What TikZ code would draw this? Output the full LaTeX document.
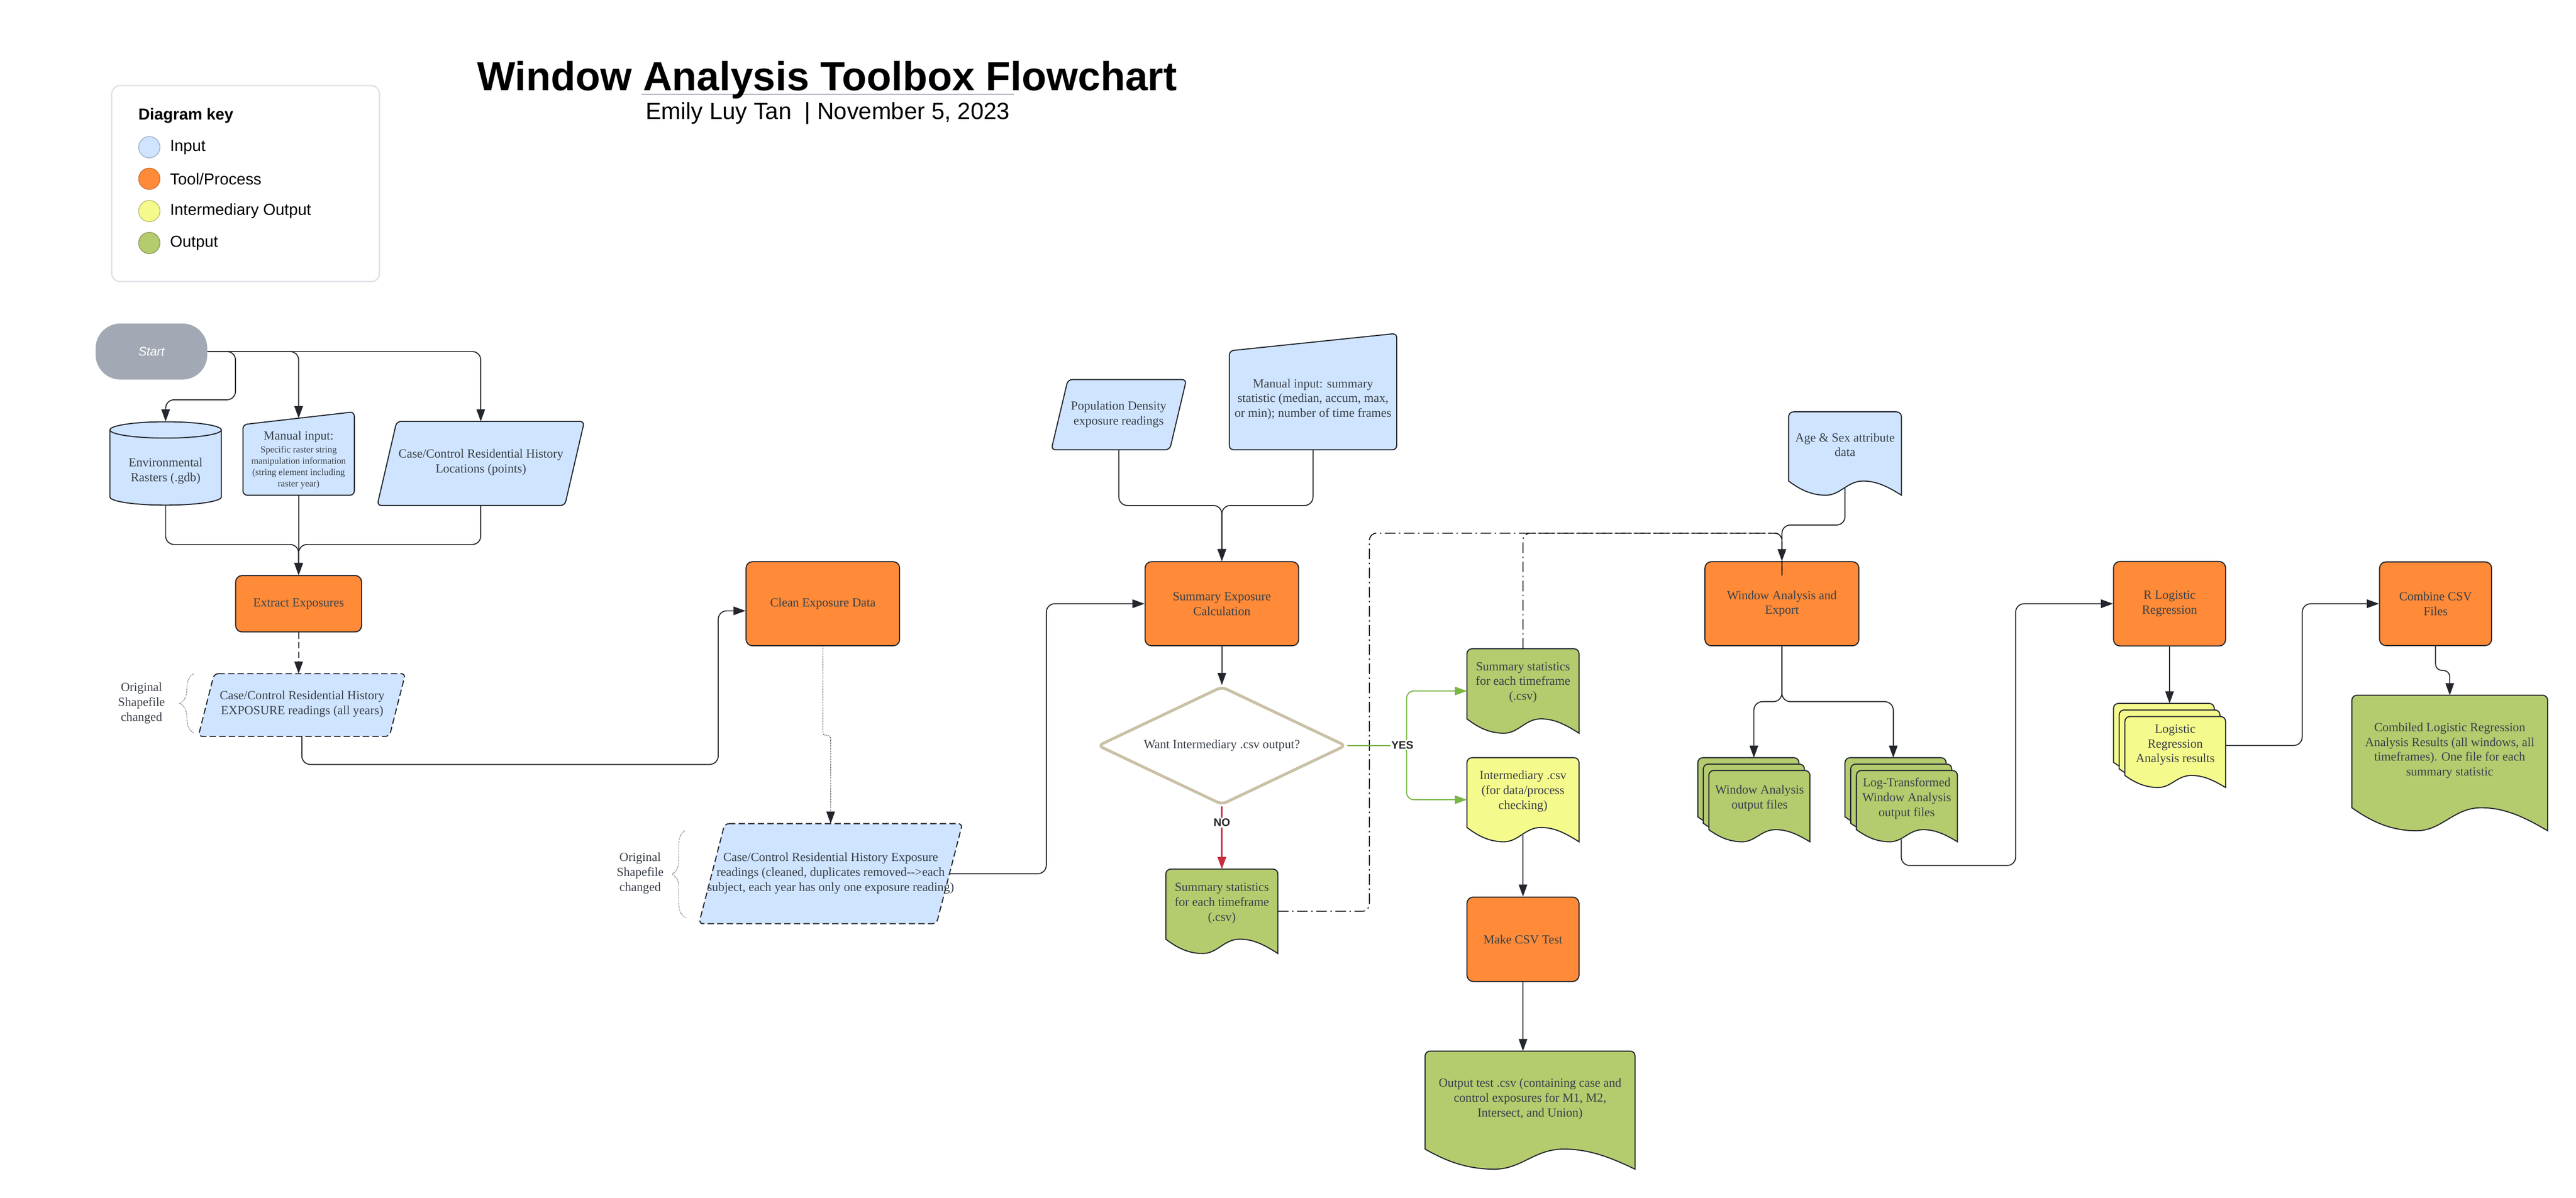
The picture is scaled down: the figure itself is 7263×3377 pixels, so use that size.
\documentclass[tikz,border=0pt]{standalone}
\usepackage{fontspec}
\setmainfont{Liberation Serif}
\setsansfont{Liberation Sans}
\usetikzlibrary{arrows.meta,shapes.geometric,decorations.pathreplacing}

\definecolor{inblue}{HTML}{CFE4FF}
\definecolor{orng}{HTML}{FF8A38}
\definecolor{ylw}{HTML}{F5FA8C}
\definecolor{grn}{HTML}{B4CB6E}
\definecolor{startgray}{HTML}{A3A9B4}
\definecolor{txtc}{HTML}{3A414A}
\definecolor{edgec}{HTML}{23272D}
\definecolor{dtan}{HTML}{C9C1A6}
\definecolor{nored}{HTML}{C92D39}
\definecolor{yesgreen}{HTML}{7AB648}
\definecolor{keyline}{HTML}{DFE3E8}
\definecolor{rulegray}{HTML}{A9AEB8}

\tikzset{
  every node/.style={font=\fontsize{35}{42}\selectfont, text=txtc},
  shapeline/.style={draw=edgec, line width=3pt},
  proc/.style={shapeline, fill=orng, rounded corners=18pt, align=center, inner sep=0pt},
  hitbox/.style={draw=none, inner sep=0pt, outer sep=0pt},
  lbl/.style={align=center, inner sep=0pt},
  conn/.style={draw=edgec, line width=2.8pt, rounded corners=24pt, -{Triangle[length=34pt,width=24pt]}},
  ddline/.style={draw=black, line width=2.5pt, rounded corners=20pt, dash pattern=on 30pt off 10pt on 4pt off 10pt},
  yesline/.style={draw=yesgreen, line width=3pt, rounded corners=20pt, -{Triangle[length=34pt,width=24pt]}},
  noline/.style={draw=nored, line width=3.5pt, -{Triangle[length=34pt,width=24pt]}},
  dotbrace/.style={draw=edgec, line width=1.6pt, dash pattern=on 1.6pt off 2.6pt, decorate, decoration={brace, amplitude=#1}},
  keytext/.style={anchor=west, font=\sffamily\fontsize{45}{54}\selectfont, text=black},
  keydot/.style={circle, minimum size=60pt, inner sep=0pt, line width=2pt},
  branchlbl/.style={font=\sffamily\bfseries\fontsize{31}{36}\selectfont, text=black!85, fill=white, inner sep=3pt}
}

\newcommand\docshape[5]{%
  \pgfmathsetmacro\dsXa{#1}\pgfmathsetmacro\dsYa{#2}%
  \pgfmathsetmacro\dsXb{#3}\pgfmathsetmacro\dsYb{#4}%
  \pgfmathsetmacro\dsW{\dsXb-\dsXa}%
  \pgfmathsetmacro\dsD{0.17*(\dsYb-\dsYa)}%
  \filldraw[shapeline, fill=#5]
    (\dsXa,\dsYb-\dsD) -- (\dsXa,\dsYa+14) arc[start angle=180,end angle=90,radius=14pt]
    -- (\dsXb-14,\dsYa) arc[start angle=90,end angle=0,radius=14pt]
    -- (\dsXb,\dsYb)
    .. controls (\dsXa+0.88*\dsW,\dsYb-0.6*\dsD) and (\dsXa+0.78*\dsW,\dsYb-\dsD) .. (\dsXa+0.66*\dsW,\dsYb-\dsD)
    .. controls (\dsXa+0.52*\dsW,\dsYb-\dsD) and (\dsXa+0.46*\dsW,\dsYb) .. (\dsXa+0.33*\dsW,\dsYb)
    .. controls (\dsXa+0.2*\dsW,\dsYb) and (\dsXa+0.1*\dsW,\dsYb-0.4*\dsD) .. (\dsXa,\dsYb-\dsD) -- cycle;%
}
% front layer x0 y0 x1 y1, fill, ox, oy
\newcommand\stackshape[7]{%
  \pgfmathsetmacro\stXa{#1-2*#6}\pgfmathsetmacro\stYa{#2-2*#7}%
  \pgfmathsetmacro\stXb{#3-2*#6}\pgfmathsetmacro\stYb{#4-2*#7}%
  \docshape{\stXa}{\stYa}{\stXb}{\stYb}{#5}%
  \pgfmathsetmacro\stXa{#1-#6}\pgfmathsetmacro\stYa{#2-#7}%
  \pgfmathsetmacro\stXb{#3-#6}\pgfmathsetmacro\stYb{#4-#7}%
  \docshape{\stXa}{\stYa}{\stXb}{\stYb}{#5}%
  \docshape{#1}{#2}{#3}{#4}{#5}%
}
% parallelogram: cx cy w h slant style
\newcommand\parashape[6]{%
  \filldraw[#6] (#1-#3/2+#5/2,#2-#4/2) -- (#1+#3/2+#5/2,#2-#4/2) -- (#1+#3/2-#5/2,#2+#4/2) -- (#1-#3/2-#5/2,#2+#4/2) -- cycle;%
}

\begin{document}
\begin{tikzpicture}[x=1pt,y=-1pt]
\useasboundingbox (0,0) rectangle (7263,3377);
\fill[white] (0,0) rectangle (7263,3377);

% ---------- title ----------
\draw[rulegray, line width=3.3pt] (1808,266) -- (2858,266);
\node[font=\sffamily\bfseries\fontsize{114}{130}\selectfont, text=black, anchor=base, inner sep=0pt] (title) at (2332,255) {Window Analysis Toolbox Flowchart};
\node[font=\sffamily\fontsize{66}{76}\selectfont, text=black, anchor=base, inner sep=0pt] (subtitle) at (2334,337) {Emily Luy Tan\ \ | November 5, 2023};

% ---------- key ----------
\draw[keyline, line width=4pt, rounded corners=24pt, fill=white] (315,241) rectangle (1070,794);
\node[font=\sffamily\bfseries\fontsize{45}{54}\selectfont, text=black, anchor=base west, inner sep=0pt] (keytitle) at (390,338) {Diagram key};
\node[keydot, fill=inblue, draw=inblue!75!black] (kin) at (421,415) {};
\node[keytext] (kinl) at (476,415) {Input};
\node[keydot, fill=orng, draw=orng!80!black] (kproc) at (421,504) {};
\node[keytext] (kprocl) at (476,504) {Tool/Process};
\node[keydot, fill=ylw, draw=ylw!75!black] (kint) at (421,595) {};
\node[keytext] (kintl) at (476,595) {Intermediary Output};
\node[keydot, fill=grn, draw=grn!75!black] (kout) at (421,685) {};
\node[keytext] (koutl) at (476,685) {Output};

% ---------- start & first inputs ----------
\node[fill=startgray, minimum width=315pt, minimum height=158pt, rounded corners=70pt, inner sep=0pt,
      font=\sffamily\itshape\fontsize{35}{42}\selectfont, text=white] (start) at (427,991) {Start};

% cylinder
\filldraw[shapeline, fill=inblue] (310,1212) -- (310,1401) arc[start angle=180,end angle=360,x radius=157pt,y radius=23pt] -- (624,1212) -- cycle;
\filldraw[shapeline, fill=inblue] (467,1212) ellipse [x radius=157pt, y radius=23pt];
\node[hitbox, minimum width=314pt, minimum height=236pt] (env) at (467,1306) {};
\node[lbl] (envt) at (467,1328) {Environmental\\Rasters (.gdb)};

% manual input 1
\filldraw[shapeline, fill=inblue, rounded corners=12pt] (685,1197) -- (999,1161) -- (999,1396) -- (685,1396) -- cycle;
\node[hitbox, minimum width=314pt, minimum height=217pt] (man1) at (842,1287.5) {};
\node[lbl] (man1t) at (842,1232) {Manual input:};
\node[lbl, font=\fontsize{26}{31.7}\selectfont] (man1s) at (842,1318) {Specific raster string\\manipulation information\\(string element including\\raster year)};

% case/control locations
\parashape{1355.5}{1306.5}{529}{237}{55}{shapeline, fill=inblue, rounded corners=12pt}
\node[hitbox, minimum width=529pt, minimum height=237pt] (cc) at (1355.5,1306.5) {};
\node[lbl] (cct) at (1356,1303) {Case/Control Residential History\\Locations (points)};

% extract
\node[proc, minimum width=355pt, minimum height=159pt] (ext) at (842,1702) {Extract Exposures};

% exposure readings (dashed)
\parashape{851}{1987.5}{539}{177}{45}{shapeline, fill=inblue, rounded corners=12pt, dash pattern=on 18pt off 9pt}
\node[hitbox, minimum width=539pt, minimum height=177pt] (ex2) at (851,1987.5) {};
\node[lbl] (ex2t) at (852,1985) {Case/Control Residential History\\EXPOSURE readings (all years)};
\draw[dotbrace=40pt] (547,2067) -- (547,1899);
\node[lbl] (orig1) at (399,1982) {Original\\Shapefile\\changed};

% clean
\node[proc, minimum width=433pt, minimum height=237pt] (clean) at (2320,1702) {Clean Exposure Data};

% cleaned readings (dashed)
\parashape{2342}{2463}{670}{282}{73}{shapeline, fill=inblue, rounded corners=12pt, dash pattern=on 18pt off 9pt}
\node[hitbox, minimum width=670pt, minimum height=282pt] (ex3) at (2342,2463) {};
\node[lbl] (ex3t) at (2342,2462) {Case/Control Residential History Exposure\\readings (cleaned, duplicates removed-{}->each\\subject, each year has only one exposure reading)};
\draw[dotbrace=38pt] (1933,2587) -- (1933,2341);
\node[lbl] (orig2) at (1805,2462) {Original\\Shapefile\\changed};

% population density
\parashape{3154.5}{1169}{334}{198}{47}{shapeline, fill=inblue, rounded corners=12pt}
\node[hitbox, minimum width=334pt, minimum height=198pt] (pop) at (3154.5,1169) {};
\node[lbl] (popt) at (3154,1168) {Population Density\\exposure readings};

% manual input 2
\filldraw[shapeline, fill=inblue, rounded corners=12pt] (3466,989) -- (3938,940) -- (3938,1268) -- (3466,1268) -- cycle;
\node[hitbox, minimum width=472pt, minimum height=303.5pt] (man2) at (3702,1116.25) {};
\node[lbl] (man2t) at (3702,1126) {Manual input: summary\\statistic (median, accum, max,\\or min); number of time frames};

% summary exposure
\node[proc, minimum width=433pt, minimum height=237pt] (sum) at (3445,1702) {Summary Exposure\\Calculation};

% decision
\node[diamond, aspect=2.1, draw=dtan, line width=8pt, fill=white, minimum width=700pt, minimum height=334pt,
      rounded corners=14pt, inner sep=0pt] (dec) at (3445,2102) {Want Intermediary .csv output?};

% summary stats (no)
\docshape{3287}{2450}{3603}{2688}{grn}
\node[hitbox, minimum width=316pt, minimum height=238pt] (sstat1) at (3445,2569) {};
\node[lbl] (sstat1t) at (3445,2546) {Summary statistics\\for each timeframe\\(.csv)};

% summary stats (yes)
\docshape{4136}{1829}{4452}{2067}{grn}
\node[hitbox, minimum width=316pt, minimum height=238pt] (sstat2) at (4294,1948) {};
\node[lbl] (sstat2t) at (4294,1924) {Summary statistics\\for each timeframe\\(.csv)};

% intermediary
\docshape{4136}{2136}{4452}{2373}{ylw}
\node[hitbox, minimum width=316pt, minimum height=237pt] (inter) at (4294,2254.5) {};
\node[lbl] (intert) at (4294,2231) {Intermediary .csv\\(for data/process\\checking)};

% make csv test
\node[proc, minimum width=316pt, minimum height=238pt] (mk) at (4294,2648) {Make CSV Test};

% output test
\docshape{4018}{2963}{4610}{3296}{grn}
\node[hitbox, minimum width=592pt, minimum height=333pt] (out) at (4314,3129.5) {};
\node[lbl] (outt) at (4314,3098) {Output test .csv (containing case and\\control exposures for M1, M2,\\Intersect, and Union)};

% age & sex
\docshape{5043}{1161}{5361}{1396}{inblue}
\node[hitbox, minimum width=318pt, minimum height=235pt] (age) at (5202,1278.5) {};
\node[lbl] (aget) at (5202,1254) {Age \& Sex attribute\\data};

% window analysis
\node[proc, minimum width=434pt, minimum height=237pt] (wa) at (5024,1702) {Window Analysis and\\Export};

% window analysis outputs (stack)
\stackshape{4818}{2172}{5103}{2373}{grn}{15.5}{18}
\node[hitbox, minimum width=316pt, minimum height=237pt] (wo) at (4945,2254.5) {};
\node[lbl] (wot) at (4961,2251) {Window Analysis\\output files};

% log-transformed outputs (stack)
\stackshape{5234}{2172}{5519}{2373}{grn}{16}{18}
\node[hitbox, minimum width=317pt, minimum height=237pt] (lt) at (5360.5,2254.5) {};
\node[lbl] (ltt) at (5376,2251) {Log-Transformed\\Window Analysis\\output files};

% R logistic regression
\node[proc, minimum width=316pt, minimum height=238pt] (rl) at (6117,1702) {R Logistic\\Regression};

% logistic results (stack)
\stackshape{5991}{2020}{6275}{2220}{ylw}{16}{18.5}
\node[hitbox, minimum width=316pt, minimum height=237pt] (lr) at (6117,2101.5) {};
\node[lbl] (lrt) at (6133,2100) {Logistic\\Regression\\Analysis results};

% combine csv
\node[proc, minimum width=316pt, minimum height=236pt] (cb) at (6867,1702) {Combine CSV\\Files};

% combined results
\docshape{6631}{1960}{7183}{2342}{grn}
\node[hitbox, minimum width=552pt, minimum height=382pt] (comb) at (6907,2151) {};
\node[lbl] (combt) at (6907,2116) {Combiled Logistic Regression\\Analysis Results (all windows, all\\timeframes). One file for each\\summary statistic};

% ---------- connectors ----------
\draw[conn] (start.east) -| (664,1127) -| (env.north);
\draw[conn] (start.east) -| (man1.north);
\draw[conn] (start.east) -| (cc.north);
\draw[conn] (env.south) |- (842,1535) -- (ext.north);
\draw[conn] (cc.south) |- (842,1535) -- (ext.north);
\draw[conn] (man1.south) -- (ext.north);
\draw[conn, dash pattern=on 18pt off 9pt] (ext.south) -- (ext.south |- ex2.north);
\draw[conn] (ex2.south) |- (2025,2155) |- (clean.west |- 0,1722);
\draw[conn, line width=1.8pt, dash pattern=on 2pt off 2.5pt, rounded corners=8pt] (clean.south) -- (2320,2073) -- (2342,2073) -- (ex3.north);
\draw[conn] (ex3.east) -| (2950,1800) |- (sum.west);
\draw[conn] (pop.south) |- (3445,1425) -- (sum.north);
\draw[conn] (man2.south) |- (3445,1425) -- (sum.north);
\draw[conn] (sum.south) -- (dec.north);
\draw[noline] (dec.south) -- (sstat1.north);
\node[branchlbl] (nolbl) at (3445,2319) {NO};

\draw[ddline] (sstat1.east) -| (3861,1503) -| ([yshift=-40pt]wa.north);
\draw[ddline] (sstat2.north) |- (5024,1503) -- ([yshift=-40pt]wa.north);
\draw[conn] ([yshift=20pt]age.south) |- (5024,1480) -- (wa.north);

\draw[yesline] (dec.east) -- (3966,2102) |- (sstat2.west);
\draw[yesline] (dec.east) -- (3966,2102) |- (inter.west);
\node[branchlbl] (yeslbl) at (3954,2100) {YES};

\draw[conn] ([yshift=19pt]inter.south) -- (mk.north);
\draw[conn] (mk.south) -- (mk.south |- out.north);

\draw[conn] (wa.south) |- (4945,1978) -- (wo.north);
\draw[conn] (wa.south) |- (5338,1978) -- (lt.north -| 5338,0);
\draw[conn] ([yshift=7pt]lt.south) |- (5683,2440) |- (rl.west);
\draw[conn] (rl.south) -- (rl.south |- lr.north);
\draw[conn] (lr.east) -| (6491,1800) |- (cb.west);
\draw[conn, rounded corners=18pt] (cb.south) -- (6867,1890) -| (comb.north);
\end{tikzpicture}
\end{document}
